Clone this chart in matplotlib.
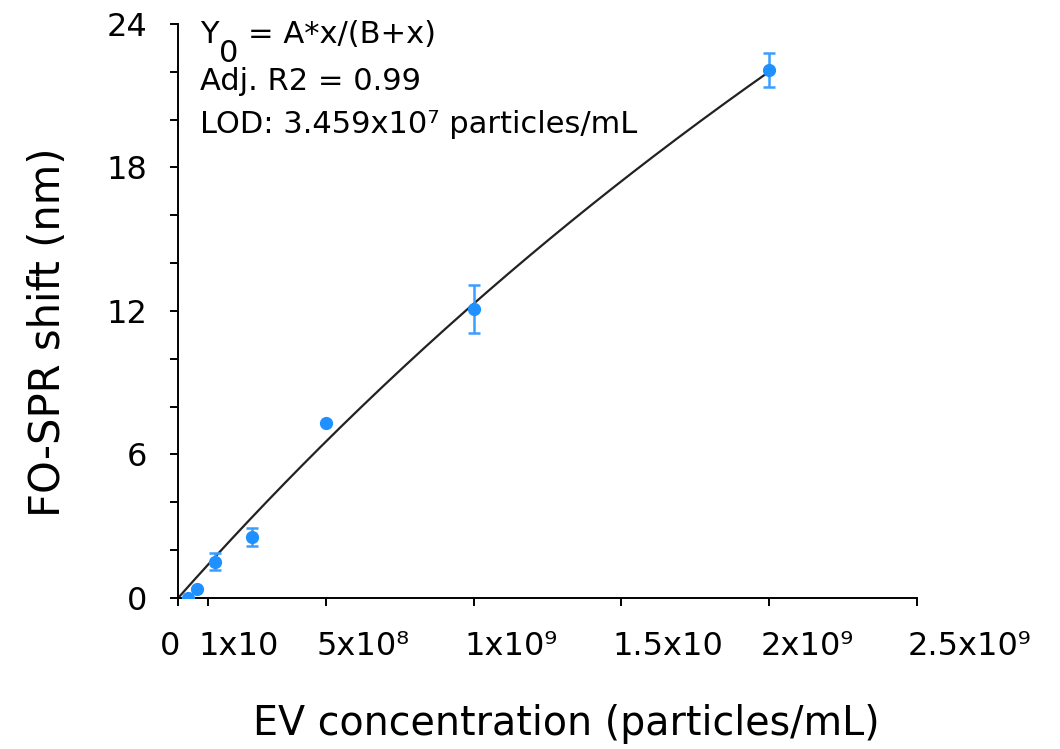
import numpy as np
import matplotlib.pyplot as plt
from matplotlib.transforms import ScaledTranslation

# EV concentration (particles/mL) vs FO-SPR shift (nm)
conc = [3.5e7, 6.25e7, 1.25e8, 2.5e8, 5e8, 1e9, 2e9]
shift = [0.0, 0.38, 1.52, 2.55, 7.33, 12.08, 22.07]
shift_err = [0.0, 0.0, 0.37, 0.38, 0.0, 1.0, 0.7]

# fitted A*x/(B+x)
fit_A = 104.2
fit_B = 7.47e9

xtick_vals = [0, 1e8, 5e8, 1e9, 1.5e9, 2e9, 2.5e9]
xtick_labels = ['0', '1x10', '5x10\u2078', '1x10\u2079', '1.5x10', '2x10\u2079', '2.5x10\u2079']
ytick_vals = [0, 6, 12, 18, 24]

plt.rcParams['font.family'] = ['DejaVu Sans']

fig = plt.figure(figsize=(10.6, 7.49), dpi=100)
ax = fig.add_axes([0.168, 0.2016, 0.697, 0.7664])

xfit = np.linspace(0, 2e9, 200)
ax.plot(xfit, fit_A * xfit / (fit_B + xfit), color='#222222', lw=1.6, zorder=2)

# only the points that have an error bar get one
has_err = [e > 0 for e in shift_err]
ax.errorbar([c for c, h in zip(conc, has_err) if h],
            [s for s, h in zip(shift, has_err) if h],
            yerr=[e for e, h in zip(shift_err, has_err) if h],
            fmt='none', ecolor='#3A9EFF', elinewidth=1.8, capsize=4.5,
            capthick=1.8, zorder=3)
ax.plot(conc, shift, 'o', color='#1E90FF', ms=8.5, zorder=4)

ax.set_xlim(0, 2.5e9)
ax.set_ylim(0, 24)
ax.set_xticks(xtick_vals)
ax.set_xticklabels(xtick_labels)
ax.set_yticks(ytick_vals)
ax.set_yticks(np.arange(0, 24, 2), minor=True)

for side in ['top', 'right']:
    ax.spines[side].set_visible(False)
for side in ['left', 'bottom']:
    ax.spines[side].set_linewidth(1.4)

ax.tick_params(axis='x', which='major', direction='out', length=6, width=1.4,
               labelsize=23, pad=18)
ax.tick_params(axis='y', which='major', direction='out', length=6, width=1.4,
               labelsize=23, pad=16)
ax.tick_params(axis='y', which='minor', direction='out', length=6, width=1.4)

# labels in the original sit left-aligned just before their tick
offset = ScaledTranslation(-9 / 100, 0, fig.dpi_scale_trans)
zero_offset = ScaledTranslation(-8 / 100, 0, fig.dpi_scale_trans)
for i, lab in enumerate(ax.get_xticklabels()):
    if i == 0:
        lab.set_transform(lab.get_transform() + zero_offset)
        continue
    lab.set_horizontalalignment('left')
    lab.set_transform(lab.get_transform() + offset)

ax.set_xlabel('EV concentration (particles/mL)', fontsize=28.5)
ax.set_ylabel('FO-SPR shift (nm)', fontsize=30)
ax.xaxis.set_label_coords(0.525, -0.185)
ax.yaxis.set_label_coords(-0.148, 0.463)

ax.text(0.0298, 0.967, 'Y', transform=ax.transAxes, fontsize=22, va='baseline')
ax.text(0.0555, 0.934, '0', transform=ax.transAxes, fontsize=22, va='baseline')
ax.text(0.0947, 0.967, '= A*x/(B+x)', transform=ax.transAxes, fontsize=22,
        va='baseline')
ax.text(0.0298, 0.885, 'Adj. R2 = 0.99', transform=ax.transAxes, fontsize=22,
        va='baseline')
ax.text(0.0298, 0.810, 'LOD: 3.459x10\u2077 particles/mL', transform=ax.transAxes,
        fontsize=22, va='baseline')

fig.savefig('out.png', dpi=100)
